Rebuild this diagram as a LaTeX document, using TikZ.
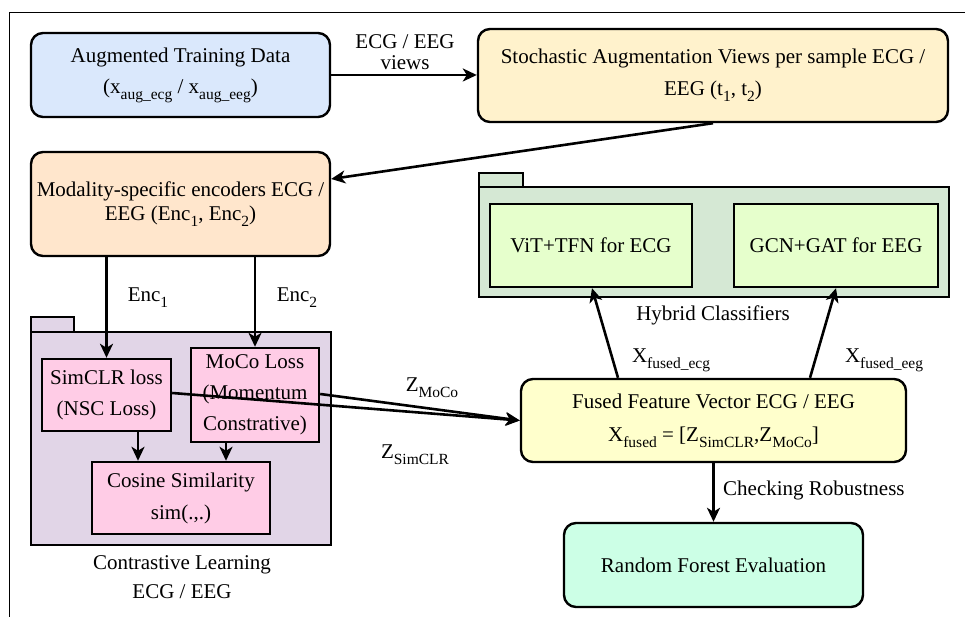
\documentclass[tikz,border=0pt]{standalone}
\usepackage{fontspec}
\setmainfont{Liberation Serif}
\usetikzlibrary{arrows.meta,calc}

\definecolor{augblue}{HTML}{DAE8FC}
\definecolor{stochyellow}{HTML}{FFF2CC}
\definecolor{encorange}{HTML}{FFE6CC}
\definecolor{clpurple}{HTML}{E1D5E7}
\definecolor{losspink}{HTML}{FFCCE6}
\definecolor{hybgreen}{HTML}{D5E8D4}
\definecolor{clsgreen}{HTML}{E6FFCC}
\definecolor{fusedyellow}{HTML}{FFFFCC}
\definecolor{rfmint}{HTML}{CCFFE6}

% lowered subscript in the text font
\newcommand\sbs[1]{\raisebox{-0.28em}{\fontsize{15.5}{15.5}\selectfont #1}}

\begin{document}
\begin{tikzpicture}[x=1pt,y=1pt,
  txt/.style={font=\fontsize{21}{25}\selectfont},
  box/.style={txt, draw=black, line width=2.4pt, align=center, inner sep=0pt},
  rbox/.style={box, rounded corners=12pt},
  arr/.style={-{Stealth[length=14pt,width=13pt,inset=4pt]}, line width=2.6pt},
  lbl/.style={txt, align=center, inner sep=0pt},
  folder/.style={draw=black, line width=2.6pt, inner sep=0pt}]
\useasboundingbox (0,0) rectangle (965,617);

% page frame
\draw[line width=1pt] (9,0) -- (9,604) -- (965,604);

% top row
\node[rbox, fill=augblue, minimum width=299, minimum height=84] (aug) at (180.5,542)
  {Augmented Training Data\\[6pt](x\sbs{aug\_ecg} / x\sbs{aug\_eeg})};
\node[rbox, fill=stochyellow, minimum width=470, minimum height=93] (stoch) at (713,541.5)
  {Stochastic Augmentation Views per sample ECG /\\[7pt]EEG (t\sbs{1}, t\sbs{2})};

% encoders
\node[rbox, fill=encorange, minimum width=299, minimum height=104] (enc) at (180.5,413)
  {Modality-specific encoders ECG /\\[-1pt]EEG (Enc\sbs{1}, Enc\sbs{2})};

% contrastive learning package
\node[folder, fill=clpurple, minimum width=43, minimum height=15] (cltab) at (52.5,292.5) {};
\node[folder, fill=clpurple, minimum width=300, minimum height=213] (clbody) at (181,178.5) {};
\node[lbl] (cllabel) at (182,40) {Contrastive Learning\\[4pt]ECG / EEG};

\node[box, fill=losspink, minimum width=129, minimum height=72] (simclr) at (106.5,222)
  {SimCLR loss\\[6pt](NSC Loss)};
\node[box, fill=losspink, minimum width=128, minimum height=94] (moco) at (255,222)
  {MoCo Loss\\[6pt](Momentum\\[6pt]Constrative)};
\node[box, fill=losspink, minimum width=178, minimum height=72] (cosine) at (181,119)
  {Cosine Similarity\\[7pt]sim(.,.)};

% hybrid classifiers package
\node[folder, fill=hybgreen, minimum width=44, minimum height=14] (hybtab) at (501,437) {};
\node[folder, fill=hybgreen, minimum width=470, minimum height=110] (hybbody) at (714,375) {};
\node[lbl] (hyblabel) at (713,302) {Hybrid Classifiers};

\node[box, fill=clsgreen, minimum width=202, minimum height=83] (vit) at (591,371.5) {ViT+TFN for ECG};
\node[box, fill=clsgreen, minimum width=204, minimum height=83] (gcn) at (836,371.5) {GCN+GAT for EEG};

% fusion and evaluation
\node[rbox, fill=fusedyellow, minimum width=385, minimum height=83] (fused) at (713.5,196.5)
  {Fused Feature Vector ECG / EEG\\[8pt]X\sbs{fused} = [Z\sbs{SimCLR},Z\sbs{MoCo}]};
\node[rbox, fill=rfmint, minimum width=299, minimum height=84] (rf) at (713.5,52)
  {Random Forest Evaluation};

% connectors
\draw[arr] (aug.east) -- (aug.east -| stoch.west);
\node[lbl] (viewslbl) at (405,565) {ECG / EEG\\[-4pt]views};

\coordinate (encin) at ($(enc.east)+(0,25)$);
\draw[arr] (stoch.south) -- (encin);

\draw[arr] (enc.south -| simclr.north) -- (simclr.north);
\draw[arr] (enc.south -| moco.north) -- (moco.north);
\node[lbl] (enc1lbl) at (148,319) {Enc\sbs{1}};
\node[lbl] (enc2lbl) at (297,319) {Enc\sbs{2}};

\draw[arr] ([xshift=31.5pt]simclr.south) -- ([xshift=31.5pt]simclr.south |- cosine.north);
\draw[arr] ([xshift=-29pt]moco.south) -- ([xshift=-29pt]moco.south |- cosine.north);

\draw[arr] ([yshift=2pt]simclr.east) -- (fused.west);
\draw[arr] ([yshift=1pt]moco.east) -- (fused.west);
\node[lbl] (zmoco) at (432,229) {Z\sbs{MoCo}};
\node[lbl] (zsim) at (415,162) {Z\sbs{SimCLR}};

\draw[arr] ([xshift=-95.5pt]fused.north) -- ([xshift=1pt]vit.south);
\draw[arr] ([xshift=96.5pt]fused.north) -- (gcn.south);
\node[lbl] (xecg) at (671,257) {X\sbs{fused\_ecg}};
\node[lbl] (xeeg) at (884,257) {X\sbs{fused\_eeg}};

\draw[arr] (fused.south) -- (rf.north);
\node[lbl, anchor=west] (robust) at (723,127) {Checking Robustness};
\end{tikzpicture}
\end{document}
